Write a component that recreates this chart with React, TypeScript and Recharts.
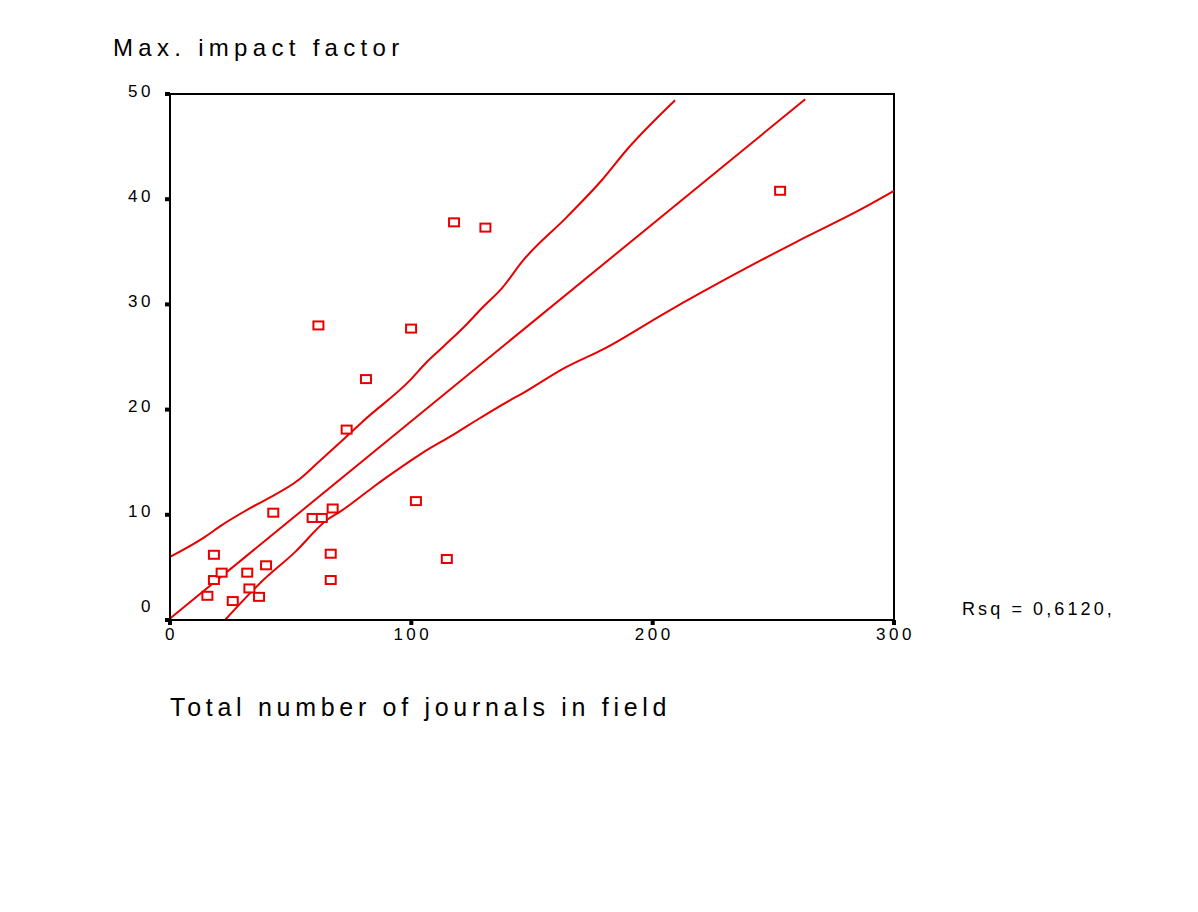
import {
  ComposedChart,
  Scatter,
  Line,
  XAxis,
  YAxis,
  ReferenceArea,
} from "recharts"

// observed points (journals in field, max impact factor)
const journals = [15.5, 18.2, 18.2, 21.4, 26.0, 32.0, 32.9, 36.9, 39.8, 42.8, 59.1, 62.9, 61.5, 67.4, 66.6, 66.6, 73.2, 81.2, 99.9, 101.9, 114.7, 117.7, 130.7, 252.8]
const impact = [2.3, 6.2, 3.8, 4.5, 1.8, 4.5, 3.0, 2.2, 5.2, 10.2, 9.7, 9.7, 28.0, 10.6, 6.3, 3.8, 18.1, 22.9, 27.7, 11.3, 5.8, 37.8, 37.3, 40.8]

// fitted line
const fitX = [0, 263.2]
const fitY = [0.15, 49.5]

// upper band
const upperX = [0, 14.5, 20.7, 33, 39.4, 53.2, 61, 72.5, 80, 99.5, 106.3, 113.3, 121.6, 129.9, 137.4, 146.4, 164.4, 178.9, 189.3, 209.3]
const upperY = [6.0, 7.9, 8.9, 10.6, 11.4, 13.3, 14.9, 17.3, 18.9, 22.8, 24.5, 26.0, 27.8, 29.8, 31.5, 34.2, 38.3, 41.8, 44.7, 49.4]

// lower band
const lowerX = [22.8, 37.3, 52, 65, 70.5, 84, 90, 104, 118, 128.5, 141, 145, 163, 180, 206, 233.5, 260, 286, 300]
const lowerY = [0, 3.5, 6.5, 9.5, 10.3, 12.6, 13.6, 15.8, 17.7, 19.2, 20.9, 21.4, 23.9, 25.8, 29.3, 32.8, 36.0, 39.0, 40.8]

const xTicks = [0, 100, 200, 300]
const yTicks = [0, 10, 20, 30, 40, 50]

const RED = "#e80000"
const FONT = "'Liberation Sans', Arial, sans-serif"

const zip = (xs: number[], ys: number[]) => xs.map((x, i) => ({ x, y: ys[i] }))

const points = zip(journals, impact)
const fit = zip(fitX, fitY)
const upper = zip(upperX, upperY)
const lower = zip(lowerX, lowerY)

function Marker(props: any) {
  const { cx, cy } = props
  if (cx == null || cy == null) return null
  return <rect x={cx - 5} y={cy - 4} width={10} height={8} fill="#fff" stroke={RED} strokeWidth={2} />
}

function YTick(props: any) {
  const { x, y, payload } = props
  const shift = payload.value === 0 ? -14 : -3
  return (
    <text x={x + 2} y={y + shift} textAnchor="end" dominantBaseline="central" fontSize={17} fontFamily={FONT} letterSpacing={3.5} fill="#000">
      {payload.value}
    </text>
  )
}

function XTick(props: any) {
  const { x, y, payload } = props
  return (
    <text x={x + 1.5} y={y + 1} textAnchor="middle" dominantBaseline="hanging" fontSize={17} fontFamily={FONT} letterSpacing={3.5} fill="#000">
      {payload.value}
    </text>
  )
}

export default function App() {
  return (
    <div style={{ position: "absolute", left: 0, top: 0, width: 1198, height: 912, background: "#fff", fontFamily: FONT }}>
      <div style={{ position: "absolute", left: 113, top: 34, fontSize: 24, letterSpacing: 5.3, whiteSpace: "nowrap" }}>
        Max. impact factor
      </div>
      <ComposedChart width={1198} height={912} margin={{ top: 94, right: 304, left: 110, bottom: 262 }}>
        <XAxis
          type="number"
          dataKey="x"
          domain={[0, 300]}
          ticks={xTicks}
          interval={0}
          height={30}
          tick={<XTick />}
          tickSize={5}
          tickMargin={2}
          axisLine={{ stroke: "#000", strokeWidth: 2 }}
          tickLine={{ stroke: "#000", strokeWidth: 4 }}
          allowDataOverflow
        />
        <YAxis
          type="number"
          dataKey="y"
          domain={[0, 50]}
          ticks={yTicks}
          interval={0}
          width={60}
          tick={<YTick />}
          tickSize={5}
          tickMargin={13}
          axisLine={{ stroke: "#000", strokeWidth: 2 }}
          tickLine={{ stroke: "#000", strokeWidth: 4 }}
          allowDataOverflow
        />
        <ReferenceArea x1={0} x2={300} y1={0} y2={50} fill="none" stroke="#000" strokeWidth={2} ifOverflow="extendDomain" />
        <Line data={upper} dataKey="y" type="monotone" stroke={RED} strokeWidth={2} dot={false} isAnimationActive={false} />
        <Line data={fit} dataKey="y" type="linear" stroke={RED} strokeWidth={2} dot={false} isAnimationActive={false} />
        <Line data={lower} dataKey="y" type="monotone" stroke={RED} strokeWidth={2} dot={false} isAnimationActive={false} />
        <Scatter data={points} dataKey="y" shape={<Marker />} isAnimationActive={false} />
      </ComposedChart>
      <div style={{ position: "absolute", left: 962, top: 599, fontSize: 18, letterSpacing: 3.1, whiteSpace: "nowrap" }}>
        Rsq = 0,6120,
      </div>
      <div style={{ position: "absolute", left: 170, top: 693, fontSize: 25, letterSpacing: 4.7, whiteSpace: "nowrap" }}>
        Total number of journals in field
      </div>
    </div>
  )
}
